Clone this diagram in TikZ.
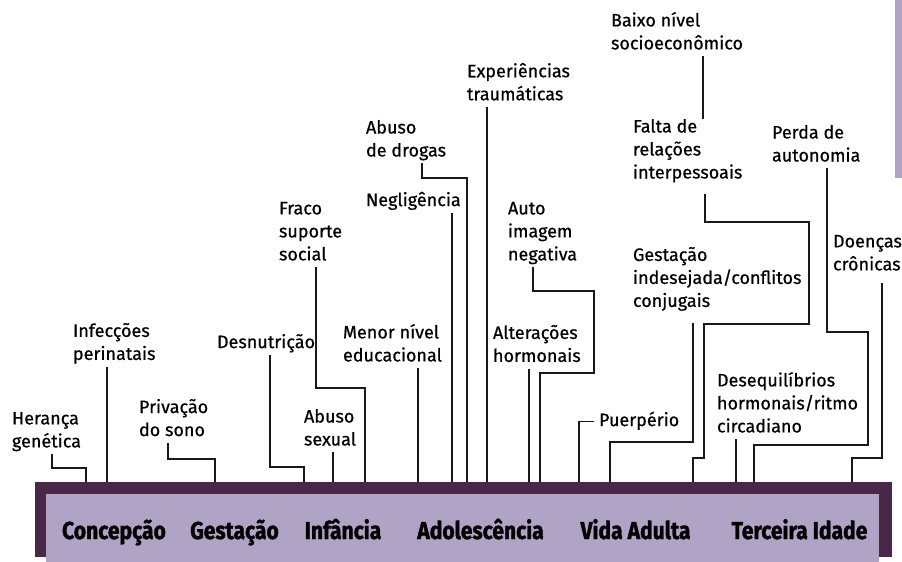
\documentclass[tikz,border=0pt]{standalone}
\usepackage{fontspec}
\setmainfont[FakeBold=0.6]{Fira Sans}
\newfontfamily\stagefont[FakeStretch=0.86, FakeBold=1.4]{Fira Sans}
\usetikzlibrary{calc}

\definecolor{plumdark}{RGB}{72,40,70}
\definecolor{lilac}{RGB}{177,163,197}

\tikzset{
	factor/.style={anchor=north west, inner sep=0pt, outer sep=0pt, align=left,
		font=\fontsize{18}{23}\selectfont,
		execute at begin node=\strut, execute at end node=\strut},
	stage/.style={anchor=base, inner sep=0pt, font=\stagefont\bfseries\fontsize{24.5}{28}\selectfont},
	link/.style={line width=1.6pt, draw=black!90},
}

\begin{document}
\begin{tikzpicture}[x=1pt, y=-1pt]
	\useasboundingbox (0,0) rectangle (902,562);

	% life stages
	\node (band) [fill=plumdark, anchor=north west, inner sep=0pt, minimum width=857pt, minimum height=75pt] at (35,482) {};
	\node (stages) [fill=lilac, anchor=north west, inner sep=0pt, minimum width=833pt, minimum height=68pt] at (46,494) {};
	\fill [lilac] (895,0) rectangle (902,178);

	\node (Conc) [stage] at (114,539) {Concepção};
	\node (Gest) [stage] at (234.5,539) {Gestação};
	\node (Inf) [stage] at (343,539) {Infância};
	\node (Adol) [stage] at (480.5,539) {Adolescência};
	\node (Adult) [stage] at (635.5,539) {Vida Adulta};
	\node (Old) [stage] at (799.5,539) {Terceira Idade};

	% risk factors
	\node (her) [factor] at (12,412) {Herança\\genética};
	\node (infec) [factor] at (73,323) {Infecções\\perinatais};
	\node (priv) [factor] at (139,399) {Privação\\do sono};
	\node (desn) [factor] at (217,332) {Desnutrição};
	\node (frac) [factor] at (279,202) {Fraco\\suporte\\social};
	\node (abusex) [factor] at (304,409) {Abuso\\sexual};
	\node (menor) [factor] at (343,324) {Menor nível\\educacional};
	\node (abudro) [factor] at (366,120) {Abuso\\de drogas};
	\node (negl) [factor] at (366,190) {Negligência};
	\node (exper) [factor] at (467,63) {Experiências\\traumáticas};
	\node (auto) [factor] at (508,202) {Auto\\imagem\\negativa};
	\node (alter) [factor] at (493,325) {Alterações\\hormonais};
	\node (baixo) [factor] at (611,12) {Baixo nível\\socioeconômico};
	\node (falta) [factor] at (633,119) {Falta de\\relações\\interpessoais};
	\node (perda) [factor] at (772,125) {Perda de\\autonomia};
	\node (gestind) [factor] at (633,247) {Gestação\\indesejada/conflitos\\conjugais};
	\node (doenc) [factor] at (833,235) {Doenças\\crônicas};
	\node (puerp) [factor] at (599,410) {Puerpério};
	\node (deseq) [factor] at (717,372) {Desequilíbrios\\hormonais/ritmo\\circadiano};

	% connectors down to the band
	\draw [link] (52,0 |- her.south) |- (86,468) -- (86,0 |- band.north);
	\draw [link] (107,0 |- infec.south) -- (107,0 |- band.north);
	\draw [link] (168,0 |- priv.south) |- (215,459) -- (215,0 |- band.north);
	\draw [link] (270,0 |- desn.south) |- (304,467) -- (304,0 |- band.north);
	\draw [link] (316,0 |- frac.south) |- (365,388) -- (365,0 |- band.north);
	\draw [link] (333,0 |- abusex.south) -- (333,0 |- band.north);
	\draw [link] (418,0 |- menor.south) -- (418,0 |- band.north);
	\draw [link] (452,0 |- negl.south) -- (452,0 |- band.north);
	\draw [link] (422,0 |- abudro.south) |- (467,178) -- (467,0 |- band.north);
	\draw [link] (487,0 |- exper.south) -- (487,0 |- band.north);
	\draw [link] (533,0 |- auto.south) |- (594,291) |- (540,373) -- (540,0 |- band.north);
	\draw [link] (529,0 |- alter.south) -- (529,0 |- band.north);
	\draw [link] ([xshift=-5pt]puerp.west) -| (579,0 |- band.north);
	\draw [link] ([yshift=-9pt]693,0 |- gestind.south) |- (610,442) -- (610,0 |- band.north);
	\draw [link] ([yshift=-9pt]705,0 |- falta.south) |- (809,222) |- (704,324) |- (693,458) -- (693,0 |- band.north);
	\draw [link] (703,0 |- baixo.south) -- (703,0 |- falta.north);
	\draw [link] (736,0 |- deseq.south) -- (736,0 |- band.north);
	\draw [link] (827,0 |- perda.south) |- (868,332) |- (754,445) -- (754,0 |- band.north);
	\draw [link] ([yshift=-6pt]882,0 |- doenc.south) |- (852,458) -- (852,0 |- band.north);

\end{tikzpicture}
\end{document}
